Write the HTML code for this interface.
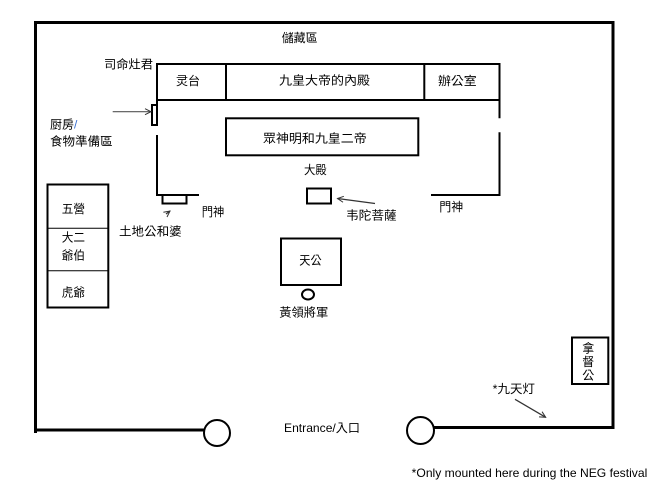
<!DOCTYPE html>
<html><head><meta charset="utf-8"><style>
html,body{margin:0;padding:0;background:#fff;}
svg{display:block;}
.c{font-family:"Liberation Sans","WenQuanYi Zen Hei","Noto Sans CJK TC",sans-serif;font-size:12px;fill:#000;}
.l{font-family:"Liberation Sans",sans-serif;font-size:12px;fill:#000;}
</style></head><body>
<svg width="654" height="491" viewBox="0 0 654 491" xmlns="http://www.w3.org/2000/svg">
<defs>
<marker id="ah" markerWidth="8" markerHeight="8" refX="7" refY="4" orient="auto" markerUnits="userSpaceOnUse">
<path d="M1,1 L7,4 L1,7" fill="none" stroke="#333" stroke-width="1"/>
</marker>
</defs>
<!-- outer wall -->
<path d="M217,430 L35.5,430 L35.5,433 M35.5,433 L35.5,22.5 L613,22.5 L613,427.5 L434,427.5" fill="none" stroke="#000" stroke-width="3"/>
<circle cx="217" cy="433" r="13" fill="#fff" stroke="#000" stroke-width="2"/>
<circle cx="420.5" cy="430.5" r="13.5" fill="#fff" stroke="#000" stroke-width="2"/>
<!-- top row -->
<rect x="157" y="64" width="342.5" height="36" fill="none" stroke="#000" stroke-width="2"/>
<line x1="226" y1="64" x2="226" y2="100" stroke="#000" stroke-width="2"/>
<line x1="424.3" y1="64" x2="424.3" y2="100" stroke="#000" stroke-width="2"/>
<!-- left wall -->
<path d="M157,100 L157,105 M157,135 L157,195 L199,195" fill="none" stroke="#000" stroke-width="2"/>
<rect x="152" y="105" width="5" height="20" fill="none" stroke="#000" stroke-width="2"/>
<rect x="162.5" y="195" width="24" height="8.5" fill="none" stroke="#000" stroke-width="2"/>
<!-- right wall -->
<path d="M499.5,100 L499.5,118.3 M499.5,132.3 L499.5,195 L431,195" fill="none" stroke="#000" stroke-width="2"/>
<!-- inner box -->
<rect x="226" y="118.3" width="192.3" height="37" fill="none" stroke="#000" stroke-width="2"/>
<!-- weituo box -->
<rect x="307" y="188.5" width="24" height="15" fill="none" stroke="#000" stroke-width="2"/>
<!-- tiangong -->
<rect x="281" y="238.5" width="60" height="46.5" fill="none" stroke="#000" stroke-width="2"/>
<ellipse cx="308" cy="294.5" rx="6" ry="5" fill="none" stroke="#000" stroke-width="2"/>
<!-- left boxes -->
<rect x="47.5" y="184.5" width="60.8" height="123" fill="none" stroke="#000" stroke-width="2"/>
<line x1="47.5" y1="228.3" x2="108.3" y2="228.3" stroke="#000" stroke-width="1"/>
<line x1="47.5" y1="270.7" x2="108.3" y2="270.7" stroke="#000" stroke-width="1"/>
<!-- datuk -->
<rect x="572" y="337.5" width="36.3" height="46.5" fill="none" stroke="#000" stroke-width="2"/>
<!-- arrows -->
<line x1="112.7" y1="111.7" x2="151" y2="111.7" stroke="#555" stroke-width="1.2" marker-end="url(#ah)"/>
<line x1="375" y1="203.5" x2="337.5" y2="198.5" stroke="#333" stroke-width="1.2" marker-end="url(#ah)"/>
<line x1="166" y1="214" x2="170" y2="211" stroke="#333" stroke-width="1.2" marker-end="url(#ah)"/>
<line x1="515" y1="399.3" x2="545.7" y2="417.3" stroke="#333" stroke-width="1.2" marker-end="url(#ah)"/>
<!-- labels -->
<text class="c" x="281.7" y="42" textLength="36" lengthAdjust="spacingAndGlyphs">儲藏區</text>
<text class="c" x="104" y="68.5" textLength="49" lengthAdjust="spacingAndGlyphs">司命灶君</text>
<text class="c" x="176" y="85" textLength="24" lengthAdjust="spacingAndGlyphs">灵台</text>
<text class="c" x="279" y="84.5" textLength="91" lengthAdjust="spacingAndGlyphs">九皇大帝的內殿</text>
<text class="c" x="438" y="85" textLength="38.7" lengthAdjust="spacingAndGlyphs">辦公室</text>
<text class="c" x="263" y="142.5" textLength="103.7" lengthAdjust="spacingAndGlyphs">眾神明和九皇二帝</text>
<text class="c" x="304" y="174" textLength="22.7" lengthAdjust="spacingAndGlyphs">大殿</text>
<text class="c" x="201.7" y="216" textLength="22.6" lengthAdjust="spacingAndGlyphs">門神</text>
<text class="c" x="439.3" y="211" textLength="24" lengthAdjust="spacingAndGlyphs">門神</text>
<text class="c" x="346" y="219.5" textLength="50.7" lengthAdjust="spacingAndGlyphs">韦陀菩薩</text>
<text class="c" x="119" y="235.5" textLength="62.7" lengthAdjust="spacingAndGlyphs">土地公和婆</text>
<text class="c" x="50" y="128.5">厨房<tspan fill="#3a6fd0">/</tspan></text>
<text class="c" x="50" y="145.5" textLength="62.7" lengthAdjust="spacingAndGlyphs">食物準備區</text>
<text class="c" x="61.7" y="213" textLength="23.3" lengthAdjust="spacingAndGlyphs">五營</text>
<text class="c" x="61.7" y="241.5" textLength="23.3" lengthAdjust="spacingAndGlyphs">大二</text>
<text class="c" x="61.7" y="259.5" textLength="23.3" lengthAdjust="spacingAndGlyphs">爺伯</text>
<text class="c" x="61.7" y="296.5" textLength="23.3" lengthAdjust="spacingAndGlyphs">虎爺</text>
<text class="c" x="299.3" y="264.5" textLength="22.4" lengthAdjust="spacingAndGlyphs">天公</text>
<text class="c" x="279.3" y="316.5" textLength="49" lengthAdjust="spacingAndGlyphs">黃領將軍</text>
<text class="c" x="492.7" y="393" textLength="42.3" lengthAdjust="spacingAndGlyphs">*九天灯</text>
<text class="c" x="588.3" y="352.5" text-anchor="middle">拿</text>
<text class="c" x="588.3" y="366" text-anchor="middle">督</text>
<text class="c" x="588.3" y="379.5" text-anchor="middle">公</text>
<text class="c" x="284" y="432" textLength="76" lengthAdjust="spacingAndGlyphs">Entrance/入口</text>
<text class="l" x="411.7" y="477" textLength="235.6" lengthAdjust="spacingAndGlyphs">*Only mounted here during the NEG festival</text>
</svg>
</body></html>
